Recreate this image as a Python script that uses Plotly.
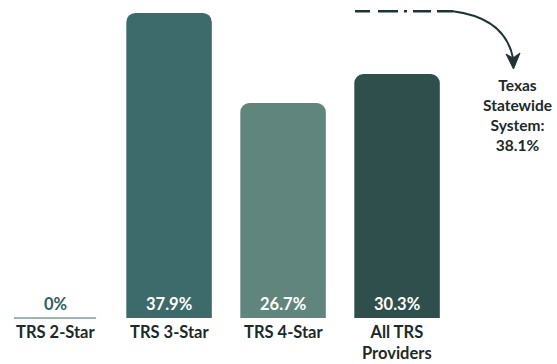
import plotly.graph_objects as go

# Share of providers by TRS rating
categories = ["TRS 2-Star", "TRS 3-Star", "TRS 4-Star", "All TRS<br>Providers"]
values = [0.0, 37.9, 26.7, 30.3]
value_labels = ["0%", "37.9%", "26.7%", "30.3%"]
bar_colors = ["#3D6A6B", "#3D6A6B", "#5F857C", "#2F4F4C"]
statewide_value = 38.1
statewide_label = "Texas<br>Statewide<br>System:<br>38.1%"

W, H = 557, 364
X0, X1 = -0.483, 4.403
Y0, Y1 = -5.71, 39.5


def px_x(p):
    return X0 + p / W * (X1 - X0)


def px_y(p):
    return Y1 - p / H * (Y1 - Y0)


xs = list(range(len(categories)))
FONT = "Lato"
ink = "#1B2A2A"

fig = go.Figure()
fig.add_trace(go.Bar(
    x=xs, y=values, width=0.75,
    marker=dict(color=bar_colors, line=dict(width=0)),
    hoverinfo="skip",
))

# zero-value bar shown as a thin baseline
fig.add_shape(type="line", x0=xs[0] - 0.36, x1=xs[0] + 0.36, y0=values[0], y1=values[0],
              line=dict(color="#3D6A6B", width=1))

# value labels near the base of each bar
for x, v, lab in zip(xs, values, value_labels):
    fig.add_annotation(x=x, y=px_y(304), text=f"<b>{lab}</b>", showarrow=False,
                       font=dict(family=FONT, size=16.5,
                                 color="#2F5C6A" if v == 0 else "white"),
                       yanchor="middle")

# category labels under the bars
for x, c in zip(xs, categories):
    fig.add_annotation(x=x, y=px_y(320), text=f"<b>{c}</b>", showarrow=False,
                       font=dict(family=FONT, size=16.5, color=ink),
                       yanchor="top")

# statewide reference line (dashed)
fig.add_shape(type="line", x0=px_x(355), x1=px_x(453), y0=statewide_value, y1=statewide_value,
              line=dict(color="#1E3535", width=2.5, dash="15px,8px,20px,6px,3px,6px,18px,6px,18px"))

# curved arrow to the statewide label
sx, sy = px_x(453), statewide_value
cx, cy = px_x(505), px_y(18)
ex, ey = px_x(513), px_y(58)
fig.add_shape(type="path", path=f"M {sx},{sy} Q {cx},{cy} {ex},{ey}",
              line=dict(color="#1E3535", width=2))
fig.add_shape(type="path",
              path=(f"M {px_x(506)},{px_y(54)} L {px_x(513.5)},{px_y(69)} "
                    f"L {px_x(520)},{px_y(53)} L {px_x(513)},{px_y(58)} Z"),
              fillcolor="#1E3535", line=dict(color="#1E3535", width=1))

fig.add_annotation(x=px_x(517), y=px_y(74), text=f"<b>{statewide_label}</b>", showarrow=False,
                   font=dict(family=FONT, size=15.5, color=ink), yanchor="top", align="center")

fig.update_layout(
    width=W, height=H, margin=dict(l=0, r=0, t=0, b=0),
    paper_bgcolor="white", plot_bgcolor="white",
    barcornerradius=9, showlegend=False,
    xaxis=dict(range=[X0, X1], visible=False, fixedrange=True),
    yaxis=dict(range=[Y0, Y1], visible=False, fixedrange=True),
)

fig.write_html("out.html")
